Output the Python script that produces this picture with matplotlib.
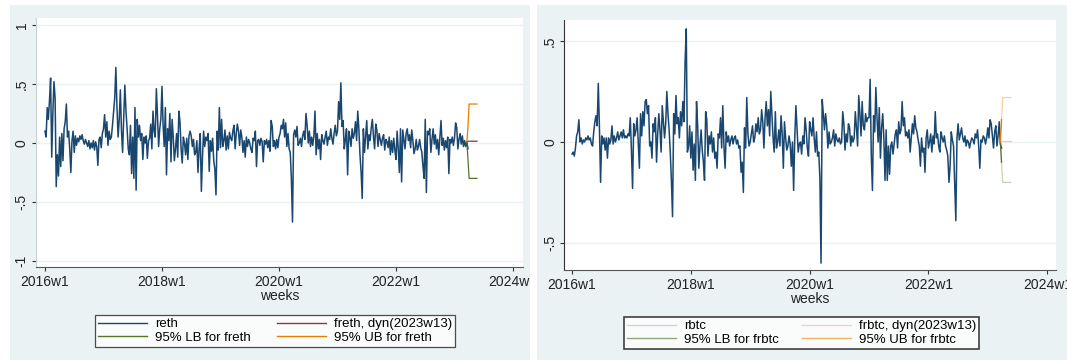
import numpy as np
import matplotlib
matplotlib.use("Agg")
import matplotlib.pyplot as plt
from matplotlib.patches import Rectangle
from matplotlib.lines import Line2D

plt.rcParams['font.family'] = ['Liberation Sans', 'DejaVu Sans']

# weekly returns, 2016w1 .. 2023w13
reth = [
    # 2016
    0.10, 0.05, 0.30, 0.20, 0.36, 0.55, -0.12, 0.25, 0.52, 0.38, -0.37, -0.10, -0.28,
    0.05, -0.20, 0.08, -0.15, 0.12, 0.18, 0.33, 0.05, 0.10, -0.05, -0.25, 0.02, 0.10,
    -0.08, 0.06, -0.02, 0.04, 0.01, 0.06, 0.03, 0.07, 0.02, -0.01, 0.03, 0.00, -0.03,
    0.02, -0.05, 0.00, -0.04, 0.02, -0.06, 0.01, -0.03, -0.19, 0.03, 0.05, -0.04, 0.08,
    # 2017
    0.12, 0.24, 0.05, 0.18, -0.02, 0.10, 0.03, 0.05, 0.15, 0.26, 0.38, 0.64, 0.30,
    0.05, 0.20, 0.45, 0.10, -0.08, 0.22, 0.49, 0.27, 0.12, -0.05, -0.10, 0.15, -0.26,
    0.05, -0.30, 0.30, -0.40, 0.20, 0.05, 0.15, 0.02, 0.08, -0.14, 0.05, 0.00, 0.06,
    -0.13, 0.02, 0.04, 0.16, -0.05, 0.27, 0.10, 0.05, 0.46, 0.23, -0.03, 0.12, 0.20,
    # 2018
    0.48, 0.15, -0.03, 0.30, -0.27, 0.12, 0.02, 0.25, -0.16, 0.20, 0.05, -0.15, -0.05,
    0.08, -0.12, 0.27, 0.18, -0.05, -0.17, 0.05, 0.00, -0.10, 0.04, -0.14, 0.06, 0.10,
    0.06, -0.03, 0.03, -0.10, -0.08, 0.02, -0.25, -0.05, 0.08, -0.41, -0.12, 0.10, -0.03,
    0.05, 0.02, 0.08, -0.24, 0.02, -0.07, 0.04, -0.15, -0.22, -0.44, 0.10, -0.06, 0.30,
    # 2019
    -0.04, 0.20, -0.03, 0.02, 0.11, -0.06, 0.06, -0.05, 0.09, 0.04, 0.02, 0.10, 0.15,
    -0.05, 0.08, 0.16, 0.10, -0.02, 0.11, 0.05, -0.08, 0.02, -0.12, 0.05, -0.03, 0.03,
    0.00, -0.05, -0.08, 0.04, 0.02, 0.10, -0.20, 0.02, 0.03, -0.02, 0.04, 0.01, -0.16,
    0.02, -0.01, 0.03, -0.04, 0.02, -0.07, 0.19, 0.14, -0.03, 0.02, -0.05, 0.03, -0.04,
    # 2020
    0.05, 0.08, 0.15, 0.12, 0.20, 0.05, 0.17, -0.03, 0.08, -0.05, -0.08, -0.30, -0.67,
    0.07, 0.11, 0.05, 0.14, -0.02, 0.00, 0.04, -0.03, 0.06, 0.10, 0.03, 0.25, 0.15,
    0.00, 0.10, -0.03, 0.05, -0.02, 0.06, 0.27, -0.10, 0.08, -0.05, 0.03, -0.14, 0.07,
    0.02, -0.01, 0.05, 0.10, -0.02, 0.05, 0.03, 0.12, 0.04, -0.01, 0.08, 0.15, 0.06,
    # 2021
    0.10, 0.35, 0.20, 0.51, 0.14, 0.19, -0.05, 0.03, 0.12, -0.27, 0.10, 0.05, -0.03,
    0.12, 0.04, 0.08, 0.18, 0.02, 0.27, 0.12, -0.10, -0.25, -0.47, 0.12, -0.08, 0.05,
    0.19, -0.05, 0.07, 0.02, 0.13, 0.20, 0.05, -0.05, 0.16, 0.11, -0.03, 0.08, 0.03,
    -0.02, 0.04, 0.07, -0.06, 0.03, 0.01, -0.04, 0.05, -0.10, 0.02, -0.08, 0.04, -0.06,
    # 2022
    -0.14, 0.10, -0.05, -0.25, 0.12, -0.33, 0.11, 0.03, -0.05, 0.08, 0.12, 0.02, 0.07,
    -0.04, 0.11, 0.02, -0.09, -0.05, 0.03, -0.06, -0.03, 0.03, -0.04, -0.08, -0.20, -0.30,
    0.20, -0.42, 0.10, 0.07, 0.12, -0.08, 0.03, 0.12, -0.01, 0.07, -0.05, 0.03, -0.10,
    0.05, 0.19, -0.02, 0.04, -0.06, 0.02, -0.04, 0.05, -0.26, 0.03, 0.00, 0.05, -0.02,
    # 2023w1 - w13
    0.04, 0.17, 0.13, -0.05, 0.03, 0.08, -0.01, 0.06, -0.03, 0.02, -0.03, 0.01, -0.05,
]

rbtc = [
    # 2016
    -0.06, -0.05, -0.07, -0.03, 0.03, 0.05, 0.11, 0.00, 0.02, -0.01, 0.01, 0.00, 0.02,
    0.01, 0.03, 0.01, 0.02, -0.01, -0.02, 0.05, 0.10, 0.13, 0.08, 0.29, 0.07, -0.20,
    0.03, -0.01, 0.02, -0.04, 0.02, -0.08, 0.02, -0.01, 0.01, 0.08, -0.01, 0.03, 0.00,
    0.02, 0.05, 0.01, 0.03, 0.05, 0.02, 0.06, 0.02, 0.03, 0.02, 0.04, 0.03, 0.12,
    # 2017
    -0.04, -0.23, 0.09, 0.03, 0.06, 0.12, 0.00, -0.13, 0.14, 0.03, 0.15, 0.08, 0.20,
    0.21, 0.14, 0.18, -0.02, 0.00, -0.08, 0.09, 0.05, 0.12, -0.10, 0.04, 0.14, 0.06,
    -0.05, 0.18, 0.10, 0.02, 0.09, 0.25, 0.14, 0.06, -0.05, -0.19, -0.37, 0.14, 0.04,
    0.23, 0.09, 0.12, 0.02, 0.15, 0.08, 0.20, 0.10, 0.40, 0.56, -0.05, -0.02, 0.08,
    # 2018
    -0.08, 0.05, -0.14, -0.01, -0.19, 0.20, 0.08, -0.13, -0.02, 0.06, -0.04, -0.10, -0.19,
    0.15, 0.11, -0.07, 0.03, -0.01, 0.05, -0.05, 0.02, -0.08, -0.05, -0.13, 0.04, 0.02,
    0.12, -0.03, 0.18, -0.02, -0.13, 0.05, 0.00, 0.03, -0.02, 0.01, 0.03, -0.01, 0.02,
    0.03, -0.01, 0.01, -0.03, -0.02, -0.15, -0.10, -0.25, 0.07, -0.03, 0.22, 0.04, -0.02,
    # 2019
    0.00, 0.04, 0.08, 0.00, 0.02, 0.09, 0.05, 0.12, 0.04, 0.06, 0.16, 0.10, -0.03,
    0.12, 0.20, 0.08, 0.16, 0.03, 0.25, 0.13, 0.02, -0.05, 0.15, -0.03, 0.00, 0.06,
    -0.02, 0.13, 0.04, -0.13, 0.10, 0.02, -0.04, -0.02, 0.03, -0.01, -0.12, 0.00, -0.24,
    0.02, 0.18, 0.06, -0.05, -0.01, 0.00, -0.06, 0.03, -0.01, 0.12, 0.06, -0.03, -0.07,
    # 2020
    0.10, 0.06, 0.03, 0.12, 0.02, -0.05, 0.05, -0.07, -0.05, -0.18, -0.60, 0.21, 0.14,
    0.06, 0.14, 0.08, -0.03, 0.05, -0.01, 0.00, 0.02, 0.06, -0.02, 0.04, 0.01, 0.00,
    0.02, -0.01, 0.00, 0.15, 0.09, -0.04, 0.04, 0.00, 0.09, 0.07, -0.02, 0.03, 0.00,
    0.02, 0.15, 0.07, -0.02, 0.23, 0.14, 0.03, 0.20, 0.08, 0.06, 0.14, 0.10, 0.12,
    # 2021
    0.12, 0.31, -0.07, -0.24, 0.13, 0.05, 0.27, 0.12, 0.00, 0.17, -0.08, 0.07, 0.14,
    0.02, -0.19, 0.06, -0.19, -0.02, -0.16, -0.02, 0.00, -0.06, -0.01, 0.04, 0.06, -0.03,
    0.10, 0.04, 0.06, 0.20, 0.08, 0.12, 0.03, 0.05, 0.02, 0.06, -0.05, 0.02, 0.09,
    0.04, 0.13, 0.07, 0.05, 0.01, -0.02, -0.12, 0.02, -0.05, -0.03, -0.15, 0.02, 0.06,
    # 2022
    -0.03, 0.00, 0.04, -0.05, 0.03, -0.01, 0.15, 0.02, 0.04, -0.02, -0.05, 0.05, 0.02,
    0.00, 0.03, -0.02, -0.04, -0.07, -0.20, -0.12, 0.05, 0.01, -0.02, -0.20, -0.39, 0.02,
    0.09, 0.01, 0.04, 0.07, 0.02, 0.00, 0.03, -0.02, 0.01, 0.00, -0.03, 0.00, 0.02,
    0.01, -0.01, 0.04, 0.02, 0.06, -0.02, -0.13, 0.01, 0.00, 0.03, 0.02, -0.01, 0.02,
    # 2023w1 - w13
    0.07, 0.02, 0.11, 0.09, 0.03, -0.03, 0.05, 0.08, -0.02, 0.03, 0.10, -0.01, -0.03,
]

# dynamic forecast from 2023w13 (weeks 2023w12 .. 2023w21)
fc_weeks = list(range(375, 385))
freth = [0.01, 0.015, 0.015, 0.015, 0.015, 0.015, 0.015, 0.015, 0.015, 0.015]
freth_lb = [0.00, -0.14, -0.30, -0.30, -0.30, -0.30, -0.30, -0.30, -0.30, -0.30]
freth_ub = [0.01, 0.14, 0.33, 0.33, 0.33, 0.33, 0.33, 0.33, 0.33, 0.33]
frbtc = [0.005, 0.005, 0.005, 0.005, 0.005, 0.005, 0.005, 0.005, 0.005, 0.005]
frbtc_lb = [0.00, -0.10, -0.20, -0.20, -0.20, -0.20, -0.20, -0.20, -0.20, -0.20]
frbtc_ub = [0.00, 0.11, 0.22, 0.22, 0.22, 0.22, 0.22, 0.22, 0.22, 0.22]

tick_years = [2016, 2018, 2020, 2022, 2024]
tick_labels = ["2016w1", "2018w1", "2020w1", "2022w1", "2024w1"]

NAVY = '#1a476f'
MAROON = '#90353b'
GREEN = '#55752f'
ORANGE = '#e37e00'
BG = '#eaf2f3'
FS = 10

def wk(idx):
    return 2016 + np.asarray(idx) / 52.0

W, H = 1067, 362
fig = plt.figure(figsize=(W / 100, H / 100), dpi=100)
fig.patch.set_facecolor('white')

# panel backgrounds
fig.add_artist(Rectangle((10 / W, 2 / H), 520 / W, 355 / H, transform=fig.transFigure,
                         facecolor=BG, edgecolor='none', zorder=-1))
fig.add_artist(Rectangle((530 / W, 0), 7 / W, 1, transform=fig.transFigure,
                         facecolor='white', edgecolor='none', zorder=0.5))
fig.add_artist(Rectangle((537 / W, 2 / H), 530 / W, 355 / H, transform=fig.transFigure,
                         facecolor=BG, edgecolor='none', zorder=0.5))

ax1 = fig.add_axes([35.5 / W, 1 - 267 / H, 487.5 / W, 249 / H], zorder=0)
ax2 = fig.add_axes([564 / W, 1 - 270 / H, 492 / W, 250 / H], zorder=1)

def style(ax, yticks, ylabels, ylim, xlim, spine_col):
    ax.set_facecolor('white')
    ax.set_xlim(*xlim)
    ax.set_ylim(*ylim)
    ax.set_yticks(yticks)
    ax.set_yticklabels(ylabels, rotation=90, va='center')
    ax.set_xticks(tick_years)
    ax.set_xticklabels(tick_labels)
    ax.tick_params(axis='both', labelsize=FS, length=3, width=0.8, color='#333333',
                   labelcolor='#222222', pad=2)
    ax.tick_params(axis='x', pad=3)
    ax.yaxis.grid(True, color=BG, linewidth=1.0)
    ax.set_axisbelow(True)
    for s in ['top', 'right']:
        ax.spines[s].set_visible(False)
    ax.spines['left'].set_color(spine_col)
    ax.spines['bottom'].set_color('#555555')
    ax.set_xlabel("weeks", fontsize=FS, labelpad=0, color='#222222')

# left panel: ETH
x_eth = wk(range(len(reth)))
fx = wk(fc_weeks)
ax1.plot(x_eth, reth, color=NAVY, linewidth=1.1)
ax1.plot(fx, freth, color=MAROON, linewidth=0.9)
ax1.plot(fx, freth_lb, color=GREEN, linewidth=0.9)
ax1.plot(fx, freth_ub, color=ORANGE, linewidth=0.9)
style(ax1, [-1, -0.5, 0, 0.5, 1], ['-1', '-.5', '0', '.5', '1'],
      (-1.051, 1.059), (2015.838, 2024.171), '#c8d0d4')

h1 = [Line2D([], [], color=NAVY, lw=1), Line2D([], [], color=GREEN, lw=1),
      Line2D([], [], color=MAROON, lw=1), Line2D([], [], color=ORANGE, lw=1)]
l1 = ["reth", "95% LB for freth", "freth, dyn(2023w13)", "95% UB for freth"]
leg1 = ax1.legend(h1, l1, ncol=2, mode='expand', loc='center',
                  bbox_to_anchor=(88 / W, 10 / H, 374 / W, 42 / H),
                  bbox_transform=fig.transFigure, fontsize=9.5, handlelength=3.7,
                  frameon=True, fancybox=False, edgecolor='#222222',
                  borderpad=0.25, labelspacing=0.1, handletextpad=0.6)
leg1.get_frame().set_linewidth(0.9)

# right panel: BTC
x_btc = wk(range(len(rbtc)))
ax2.plot(x_btc, rbtc, color=NAVY, linewidth=1.1)
ax2.plot(fx, frbtc, color='#ecc6ca', linewidth=0.9)
ax2.plot(fx[1:], frbtc_lb[1:], color='#c5d3b6', linewidth=0.9)
ax2.plot(fx[1:], frbtc_ub[1:], color='#f6cf9f', linewidth=0.9)
ax2.plot(fx[:2], frbtc_lb[:2], color=GREEN, linewidth=1.0)
ax2.plot(fx[:2], frbtc_ub[:2], color=ORANGE, linewidth=1.0)
style(ax2, [-0.5, 0, 0.5], ['-.5', '0', '.5'],
      (-0.634, 0.604), (2015.865, 2024.148), '#333333')

h2 = [Line2D([], [], color='#c9d5e0', lw=1), Line2D([], [], color='#8fa87a', lw=1),
      Line2D([], [], color='#efcfd3', lw=1), Line2D([], [], color='#f2b25f', lw=1)]
l2 = ["rbtc", "95% LB for frbtc", "frbtc, dyn(2023w13)", "95% UB for frbtc"]
leg2 = ax2.legend(h2, l2, ncol=2, mode='expand', loc='center',
                  bbox_to_anchor=(617 / W, 9 / H, 369 / W, 40 / H),
                  bbox_transform=fig.transFigure, fontsize=9.5, handlelength=3.7,
                  frameon=True, fancybox=False, edgecolor='#111111',
                  borderpad=0.25, labelspacing=0.1, handletextpad=0.6)
leg2.get_frame().set_linewidth(1.2)

fig.savefig("out.png", dpi=100)
